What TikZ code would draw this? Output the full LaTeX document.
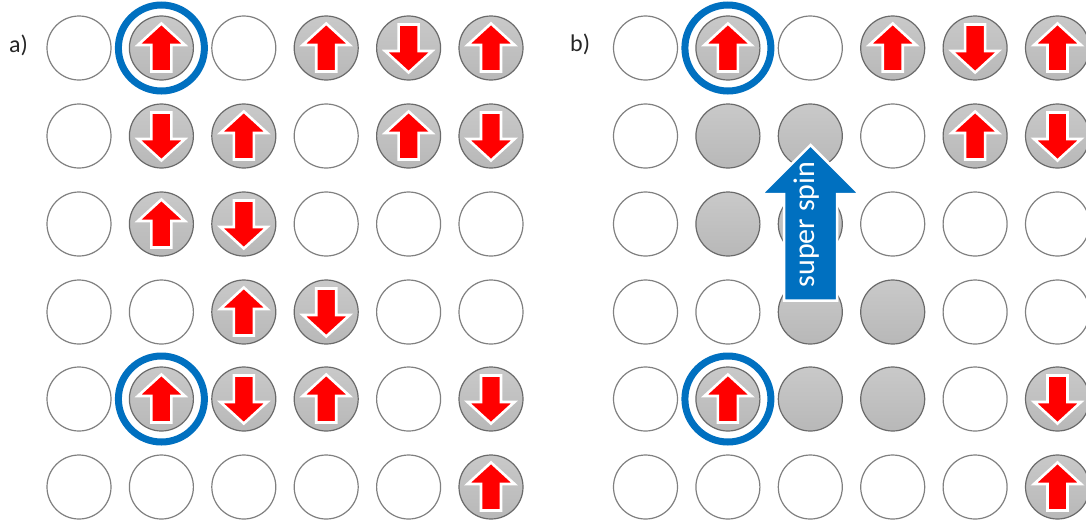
\documentclass[tikz,border=0pt]{standalone}
\usepackage{fontspec}
\setmainfont{Carlito}
\definecolor{ringblue}{HTML}{0070C0}
\definecolor{spinred}{HTML}{FF0000}
\definecolor{edgegrey}{HTML}{808080}
\definecolor{celledge}{HTML}{6A6A6A}
\definecolor{celltop}{HTML}{C9C9C9}
\definecolor{cellbot}{HTML}{B8B8B8}
\tikzset{
  base cell/.style={circle, minimum size=64pt, inner sep=0pt, line width=1.2pt},
  cell-e/.style={base cell, draw=edgegrey, fill=white},
  cell-g/.style={base cell, draw=celledge, top color=celltop, bottom color=cellbot},
  cell-u/.style={cell-g},
  cell-d/.style={cell-g},
  spinarrow/.style={fill=spinred, draw=white, line width=2.6pt, line join=miter},
  spin-e/.pic={},
  spin-g/.pic={},
  spin-u/.pic={\draw[spinarrow] (0,-24.5) -- (23.5,-3) -- (10,-3) -- (10,23.5) -- (-10,23.5) -- (-10,-3) -- (-23.5,-3) -- cycle;},
  spin-d/.pic={\draw[spinarrow] (0,24.5) -- (23.5,3) -- (10,3) -- (10,-23.5) -- (-10,-23.5) -- (-10,3) -- (-23.5,3) -- cycle;},
  bluering/.style={draw=ringblue, line width=7pt},
  panellabel/.style={font=\fontsize{24}{26}\selectfont, text=black!85, anchor=base west, inner sep=0pt},
  bigarrow/.style={fill=ringblue, draw=white, line width=2.5pt, line join=miter},
  bigtext/.style={font=\fontsize{30}{31}\selectfont, text=white, rotate=90, anchor=base, inner sep=0pt},
}
\newcommand\drawpanel[3]{%
  \foreach \rowy/\cells [count=\ri from 0] in {#3} {
    \foreach \t [count=\ci from 0] in \cells {
      \node[cell-\t] (#2-\ri-\ci) at ({#1+82.4*\ci},\rowy) {};
      \pic at (#2-\ri-\ci) {spin-\t};
    }
  }%
}
\begin{document}
\begin{tikzpicture}[x=1pt,y=-1pt]
\useasboundingbox (0,0) rectangle (1086,523);
\fill[white] (0,0) rectangle (1086,523);
% panel a
\node[panellabel] (la) at (9,52) {a)};
\drawpanel{79}{a}{48/{e,u,e,u,d,u},136/{e,d,u,e,u,d},224/{e,u,d,e,e,e},312/{e,e,u,d,e,e},399/{e,u,d,u,e,d},487/{e,e,e,e,e,u}}
\draw[bluering] (a-0-1) circle[radius=43pt];
\draw[bluering] (a-4-1) circle[radius=43pt];
% panel b
\node[panellabel] (lb) at (570,51) {b)};
\drawpanel{645.5}{b}{48/{e,u,e,u,d,u},136/{e,g,g,e,u,d},224/{e,g,g,e,e,e},312/{e,e,g,g,e,e},399/{e,u,g,g,e,d},487/{e,e,e,e,e,u}}
\draw[bluering] (b-0-1) circle[radius=43pt];
\draw[bluering] (b-4-1) circle[radius=43pt];
% super spin arrow
\coordinate (ss) at (810.5,224);
\begin{scope}[shift={(ss)}]
\draw[bigarrow] (0,-79) -- (49,-30) -- (26.5,-30) -- (26.5,76.5) -- (-26.5,76.5) -- (-26.5,-30) -- (-49,-30) -- cycle;
\end{scope}
\node[bigtext] (superspin) at (814,224.5) {super spin};
\end{tikzpicture}
\end{document}
